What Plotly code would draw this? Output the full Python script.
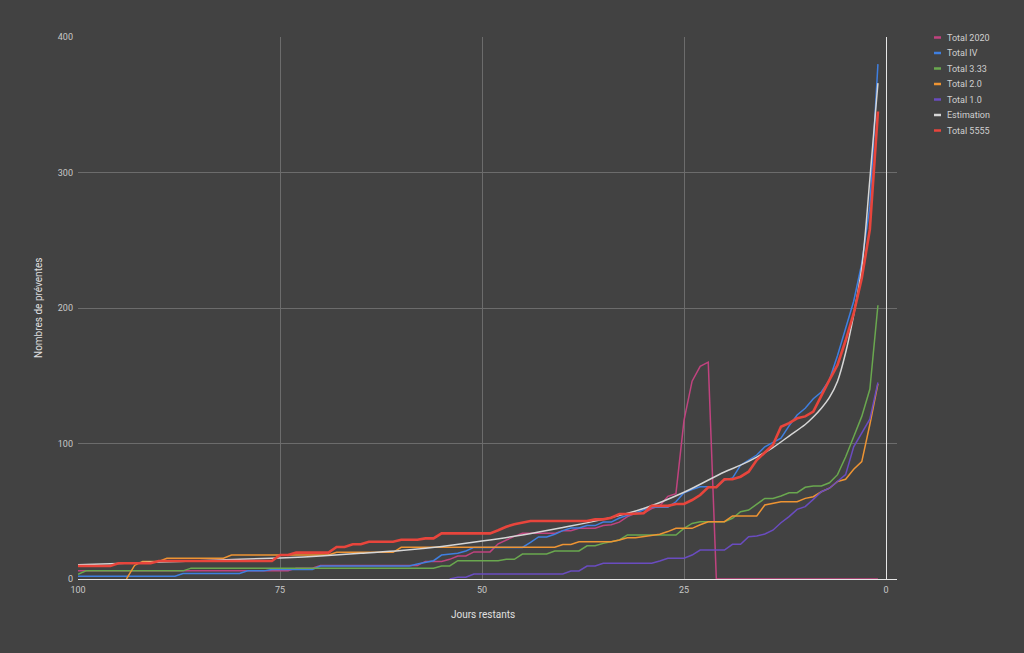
import plotly.graph_objects as go

# Days remaining (x axis, reversed: 100 on the left, 0 on the right)
days = list(range(100, 0, -1))

total_2020 = (
    [6] * 27 + [8] * 3 + [10] * 13 + [13] * 3 + [14.5, 17, 17] + [20] * 3 +
    [26, 29, 31.5] + [33.7] * 5 + [35.7] * 2 + [37.4] * 3 +
    [39.4, 40, 42, 46, 48.5, 48.5, 52, 54, 61, 63, 117, 146, 157, 160] + [0] * 21
)

total_iv = (
    [2] * 13 + [4] * 8 + [6] * 3 + [7] * 6 + [9.6] * 12 +
    [11, 12, 13.5, 17.7, 18.5, 19, 20.7] + [23.3] * 7 +
    [27, 31, 31, 33, 35.7, 37.6, 37.6, 39.4, 39.4, 42, 42, 45, 47, 48.5, 51,
     53, 53, 53, 57, 63.7, 66, 68, 68, 68, 73, 74.5, 84, 88, 91.5, 97.6,
     100.6, 104, 113, 121, 126, 133, 138, 147, 165, 185, 205, 233, 275, 380]
)

total_333 = (
    [3.5] + [6] * 13 + [8] * 31 + [9.6] * 2 + [13.5] * 6 + [14.5] * 2 +
    [18.4] * 4 + [20.7] * 4 + [24.5] * 2 + [26.3, 27.5, 28.8] + [32.5] * 7 +
    [37.4, 41] + [42.3] * 4 +
    [44.8, 49.7, 50.9, 55.3, 59.5, 59.5, 61.3, 63.7, 63.7, 67.7, 68.6, 68.6,
     71, 77, 90, 105, 120, 140, 202]
)

total_20 = (
    [None] * 6 + [0, 10] + [13] * 3 + [15.3] * 8 + [17.7] * 13 + [19.7] * 8 +
    [23.4] * 20 + [25.5] * 2 + [27.5] * 5 +
    [28.8, 30.5, 30.5, 31.5, 32, 33, 35] + [37.4] * 3 + [40] + [42.3] * 3 +
    [46.5] * 4 + [54.6, 55.8] + [57] * 3 +
    [59.5, 60.7, 64.4, 67, 72, 73.6, 81, 86.6, 114, 144]
)

total_10 = (
    [None] * 46 + [0, 1.3, 1.3] + [3.7] * 12 + [5.9] * 2 + [9.6] * 2 +
    [11.6] * 7 + [13.3] + [15.3] * 3 + [17.7] + [21.4] * 4 + [25.6] * 2 +
    [31.2, 31.7, 33.2, 36, 41.5, 46, 51.4, 53.4, 58.8, 64.4, 67, 72, 77,
     97.6, 107.5, 118, 145]
)

total_5555 = (
    [9.6] * 5 + [11.6] * 5 + [13.3] * 15 + [17.7] * 2 + [19.5] * 5 +
    [23.6] * 2 + [25.6] * 2 + [27.5] * 4 + [29] * 3 + [30] * 2 + [33.7] * 7 +
    [36, 38.6, 40.4, 41.5] + [42.8] * 8 + [44] * 2 + [45.2] + [48] * 2 +
    [48.5, 48.5] + [54] * 3 + [55.4] * 2 + [58.3, 62] + [67.7] * 2 +
    [73.6] * 2 +
    [75.5, 79.2, 87.8, 93, 98.9, 112.4, 115, 118.6, 120, 123.5, 135.8, 147,
     158, 176, 196, 222, 258, 345]
)

est_days = [100, 95, 90, 85, 80, 75, 70, 65, 60, 55, 50, 45, 40, 35, 30, 25,
            20, 18, 16, 14, 12, 10, 9, 8, 7, 6, 5, 4, 3, 2, 1]
estimation = [10.5, 11.5, 12.5, 13.5, 14.5, 15.5, 17, 19, 21, 24, 28, 32.5,
              38, 44, 52, 64, 79, 84, 90, 97, 105.5, 114, 119.5, 126, 134,
              146, 167, 195, 230, 295, 366]

names = ["Total 2020", "Total IV", "Total 3.33", "Total 2.0", "Total 1.0",
         "Estimation", "Total 5555"]
colors = ["#c0437f", "#3f7fe0", "#6aa84f", "#ee9433", "#6a4cc0",
          "#d6d6d6", "#e8453c"]

BG = "#424242"
FONT = "Roboto"

fig = go.Figure()
series = [
    (days, total_2020, 1.5, "linear"),
    (days, total_iv, 1.5, "linear"),
    (days, total_333, 1.5, "linear"),
    (days, total_20, 1.5, "linear"),
    (days, total_10, 1.5, "linear"),
    (est_days, estimation, 1.5, "spline"),
    (days, total_5555, 2.6, "linear"),
]
for (xs, ys, w, shp), name, col in zip(series, names, colors):
    fig.add_trace(go.Scatter(
        x=xs, y=ys, name=name, mode="lines",
        line=dict(color=col, width=w, shape=shp),
        connectgaps=False, showlegend=False,
    ))

# Plot area in pixels: x 78..897, y 37..579
L, R, T, B = 78, 897, 37, 579
W, H = 1024, 653

fig.update_layout(
    width=W, height=H,
    paper_bgcolor=BG, plot_bgcolor=BG,
    margin=dict(l=L, r=W - R, t=T, b=H - B, pad=0),
    font=dict(family=FONT, size=9, color="#c8c8c8"),
    showlegend=False,
    xaxis=dict(
        range=[100, -1.36], tickvals=[100, 75, 50, 25, 0],
        ticktext=["100", "75", "50", "25", "0"],
        showgrid=True, gridcolor="#6c6c6c", gridwidth=1,
        zeroline=True, zerolinecolor="#e6e6e6", zerolinewidth=1,
        showline=False, ticks="", tickfont=dict(size=9, color="#c8c8c8"),
        ticklabelstandoff=4,
    ),
    yaxis=dict(
        range=[0, 400], tickvals=[0, 100, 200, 300, 400],
        showgrid=True, gridcolor="#6c6c6c", gridwidth=1,
        zeroline=True, zerolinecolor="#e6e6e6", zerolinewidth=1,
        showline=False, ticks="", tickfont=dict(size=9, color="#c8c8c8"),
        ticklabelstandoff=4,
    ),
)

def px_x(p):
    return (p - L) / (R - L)

def px_y(p):
    return (B - p) / (B - T)

annotations = [
    dict(text="Jours restants", x=px_x(483), y=px_y(614), xref="paper",
         yref="paper", showarrow=False, xanchor="center", yanchor="middle",
         font=dict(family=FONT, size=10, color="#e0e0e0")),
    dict(text="Nombres de préventes", x=px_x(38), y=px_y(308), xref="paper",
         yref="paper", showarrow=False, xanchor="center", yanchor="middle",
         textangle=-90, font=dict(family=FONT, size=10, color="#e0e0e0")),
]
shapes = []
legend_y = [37.5, 53, 68.5, 84, 99.5, 115, 130.5]
for name, col, py in zip(names, colors, legend_y):
    annotations.append(dict(
        text=name, x=px_x(945), y=px_y(py), xref="paper", yref="paper",
        showarrow=False, xanchor="left", yanchor="middle",
        font=dict(family=FONT, size=9, color="#d0d0d0"),
    ))
    shapes.append(dict(
        type="line", xref="paper", yref="paper",
        x0=px_x(934), x1=px_x(941), y0=px_y(py), y1=px_y(py),
        line=dict(color=col, width=2.5),
    ))
fig.update_layout(annotations=annotations, shapes=shapes)

fig.write_html(
    "out.html",
    config={"displayModeBar": False},
    post_script="document.body.style.margin='0';"
                "document.body.style.background='#424242';"
                "document.body.style.overflow='hidden';",
)
